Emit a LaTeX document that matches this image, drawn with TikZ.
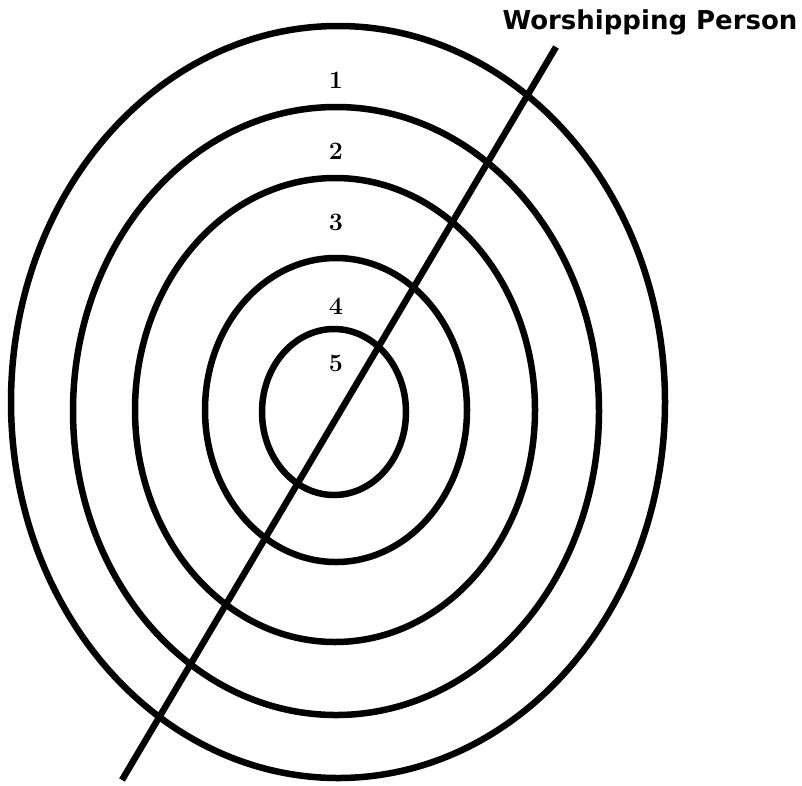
\documentclass[tikz,border=0pt]{standalone}
\usepackage{fontspec}
\newfontfamily\titlefont{DejaVu Sans}
\usepackage{tikz}
\usetikzlibrary{positioning}
\tikzset{
	% anello (cerchio concentrico)
	anello/.style={line width=6.5pt},
	% linea della persona
	asse/.style={line width=6.5pt},
	% numero dell'anello
	numero/.style={inner sep=0pt, font=\fontsize{25}{28}\selectfont\bfseries},
	% titolo
	titolo/.style={inner sep=0pt, font=\titlefont\fontsize{26}{30}\selectfont\bfseries},
}

\begin{document}
\begin{tikzpicture}[x=1pt, y=-1pt]
    \useasboundingbox (0,0) rectangle (802,785);

    % anelli
    \draw[anello] (338,402) ellipse [x radius=327, y radius=376];
    \draw[anello] (336,411) ellipse [x radius=263, y radius=304];
    \draw[anello] (335,410) ellipse [x radius=200, y radius=232];
    \draw[anello] (336,410) ellipse [x radius=131, y radius=152];
    \draw[anello] (334,412) ellipse [x radius=72, y radius=83];

    % numeri
    \node[numero] (n1) at (336,80) {1};
    \node[numero] (n2) at (336,151) {2};
    \node[numero] (n3) at (336,222) {3};
    \node[numero] (n4) at (336,306) {4};
    \node[numero] (n5) at (336,363) {5};

    % persona
    \node[titolo] (pers) at (650,22) {Worshipping Person};
    \coordinate (alto) at (556,47);
    \coordinate (basso) at (122,780);
    \draw[asse] (alto) -- (basso);
  \end{tikzpicture}
\end{document}
